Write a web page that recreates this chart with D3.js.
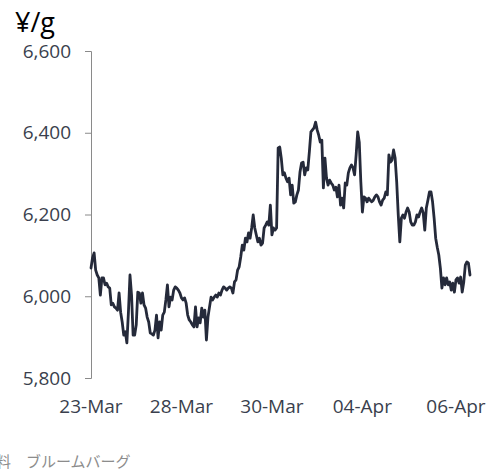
<!DOCTYPE html>
<html><head><meta charset="utf-8">
<script src="https://cdn.jsdelivr.net/npm/d3@7"></script>
<style>body{margin:0;background:#fff} svg{display:block}</style>
</head><body>
<svg id="c" width="499" height="472"></svg>
<script>
const prices = [
6069,6094,6106,6064,6052,6045,6003,6045,6045,6028,6032,6023,6020,5979,5983,5974,5971,5966,6008,5961,
5937,5905,5913,5886,5961,6052,6003,5905,5905,5930,6010,6008,5983,6008,5979,5971,5949,5937,5910,5908,
5905,5917,5954,5898,5937,5917,5954,5961,5991,6028,5974,
5998,5991,6015,6023,6020,6015,6008,5996,5991,5996,5983,5954,5942,5937,5930,5925,5974,5925,5947,5935,
5971,5949,5966,5893,5949,5974,5998,5991,5998,6003,5998,6008,6003,6015,6023,6020,6015,6020,6023,6020,
6008,6035,6040,6064,6072,6096,6125,6113,6142,6133,
6155,6142,6167,6199,6167,6150,6133,6142,6125,6130,6167,6174,6182,6174,6223,6150,6167,6162,6167,6363,
6365,6338,6297,6302,6289,6280,6289,6248,6272,6228,6231,6248,6260,6304,6326,6328,6297,6314,6309,6353,
6402,6407,6412,6426,6407,6394,6377,6382,
6265,6338,6289,6272,6284,6277,6272,6260,6267,6243,6272,6223,6240,6216,6277,6272,6302,6314,6321,6314,
6297,6346,6402,6377,6280,6206,6243,6240,6231,6240,6235,6231,6235,6243,6248,6243,6231,6223,6235,6240,
6255,6248,6346,6328,6333,6358,6338,6280,6199,6133,
6191,6199,6191,6206,6216,6206,6182,6174,6174,6182,6199,6194,6206,6216,6204,6162,6216,6235,6255,6255,
6231,6191,6142,6120,6101,6069,6020,6045,6028,6045,6028,6035,6015,6032,6010,6040,6045,6032,6047,6010,
6035,6076,6084,6081,6052
];
const xLabels = ["23-Mar","28-Mar","30-Mar","04-Apr","06-Apr"];
const xLabelIdx = [0,58,116,174,234];
const yTicks = [5800,6000,6200,6400,6600];
const unitLabel = "¥/g";
const sourceText = "資料　ブルームバーグ";

const svg = d3.select("#c");
const x = d3.scaleLinear().domain([0, prices.length - 1]).range([91, 470]);
const y = d3.scaleLinear().domain([5800, 6600]).range([378, 51]);

const gy = svg.append("g").attr("transform", "translate(91,0)")
  .call(d3.axisLeft(y).tickValues(yTicks).tickFormat(d3.format(",")).tickSize(6).tickPadding(14));
gy.selectAll(".domain, .tick line").attr("stroke", "#8a8a8a").attr("stroke-width", 1);
gy.selectAll(".tick text").attr("font-family", "'Open Sans', sans-serif").attr("font-size", 19)
  .attr("fill", "#3a3f4d");

svg.append("g").selectAll("text").data(xLabels).join("text")
  .attr("x", (d, i) => x(xLabelIdx[i])).attr("y", 413)
  .attr("text-anchor", "middle")
  .attr("font-family", "'Open Sans', sans-serif").attr("font-size", 19).attr("fill", "#3a3f4d")
  .text(d => d);

svg.append("path").datum(prices)
  .attr("fill", "none").attr("stroke", "#252a3a").attr("stroke-width", 2.8)
  .attr("stroke-linejoin", "round").attr("stroke-linecap", "round")
  .attr("d", d3.line().x((d, i) => x(i)).y(d => y(d)));

svg.append("text").attr("x", 15).attr("y", 32)
  .attr("font-family", "'Open Sans', sans-serif").attr("font-size", 27).attr("fill", "#000")
  .text(unitLabel);

svg.append("text").attr("x", -19).attr("y", 467)
  .attr("font-family", "'Noto Sans CJK JP', sans-serif").attr("font-size", 15).attr("fill", "#8c8c8c")
  .text(sourceText);
</script>
</body></html>
